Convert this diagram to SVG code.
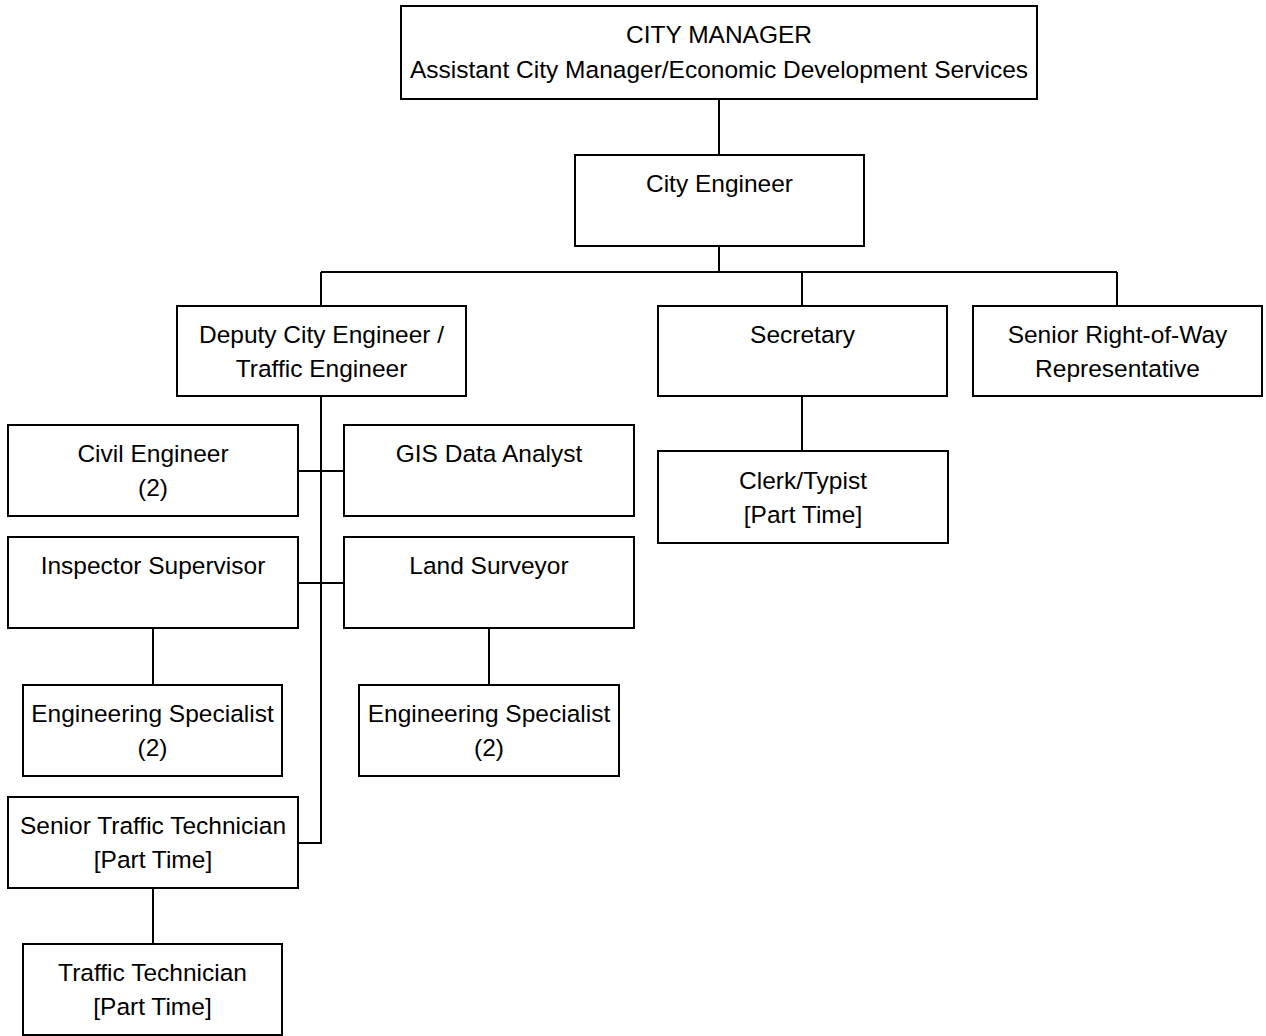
<svg xmlns="http://www.w3.org/2000/svg" width="1266" height="1036" viewBox="0 0 1266 1036">
<style>
rect{fill:#fff;stroke:#000;stroke-width:2}
text{font-family:"Liberation Sans",Arial,sans-serif;font-size:24.5px;fill:#000;text-anchor:middle}
#connectors path{fill:none;stroke:#000;stroke-width:2}
</style>
<rect x="0" y="0" width="1266" height="1036" style="stroke:none"/>
<g id="connectors">
<path d="M719 99V155M719 246V272M321 272H1117M321 272V306M802 272V306M1117 272V306"/>
<path d="M321 396V843H298M298 471H344M298 583H344"/>
<path d="M802 396V451M153 628V685M489 628V685M153 888V944"/>
</g>
<g id="city-manager"><rect x="401" y="6" width="636" height="93"/><text x="719" y="43">CITY MANAGER</text><text x="719" y="78">Assistant City Manager/Economic Development Services</text></g>
<g id="city-engineer"><rect x="575" y="155" width="289" height="91"/><text x="719.5" y="192">City Engineer</text></g>
<g id="deputy"><rect x="177" y="306" width="289" height="90"/><text x="321.5" y="343">Deputy City Engineer /</text><text x="321.5" y="377">Traffic Engineer</text></g>
<g id="secretary"><rect x="658" y="306" width="289" height="90"/><text x="802.5" y="343">Secretary</text></g>
<g id="right-of-way"><rect x="973" y="306" width="289" height="90"/><text x="1117.5" y="343">Senior Right-of-Way</text><text x="1117.5" y="377">Representative</text></g>
<g id="civil"><rect x="8" y="425" width="290" height="91"/><text x="153" y="462">Civil Engineer</text><text x="153" y="496">(2)</text></g>
<g id="gis"><rect x="344" y="425" width="290" height="91"/><text x="489" y="462">GIS Data Analyst</text></g>
<g id="clerk"><rect x="658" y="451" width="290" height="92"/><text x="803" y="489">Clerk/Typist</text><text x="803" y="523">[Part Time]</text></g>
<g id="inspector"><rect x="8" y="537" width="290" height="91"/><text x="153" y="574">Inspector Supervisor</text></g>
<g id="land-surveyor"><rect x="344" y="537" width="290" height="91"/><text x="489" y="574">Land Surveyor</text></g>
<g id="eng-spec-1"><rect x="23" y="685" width="259" height="91"/><text x="152.5" y="722">Engineering Specialist</text><text x="152.5" y="756">(2)</text></g>
<g id="eng-spec-2"><rect x="359" y="685" width="260" height="91"/><text x="489" y="722">Engineering Specialist</text><text x="489" y="756">(2)</text></g>
<g id="senior-traffic"><rect x="8" y="797" width="290" height="91"/><text x="153" y="834">Senior Traffic Technician</text><text x="153" y="868">[Part Time]</text></g>
<g id="traffic-tech"><rect x="23" y="944" width="259" height="91"/><text x="152.5" y="981">Traffic Technician</text><text x="152.5" y="1015">[Part Time]</text></g>
</svg>
